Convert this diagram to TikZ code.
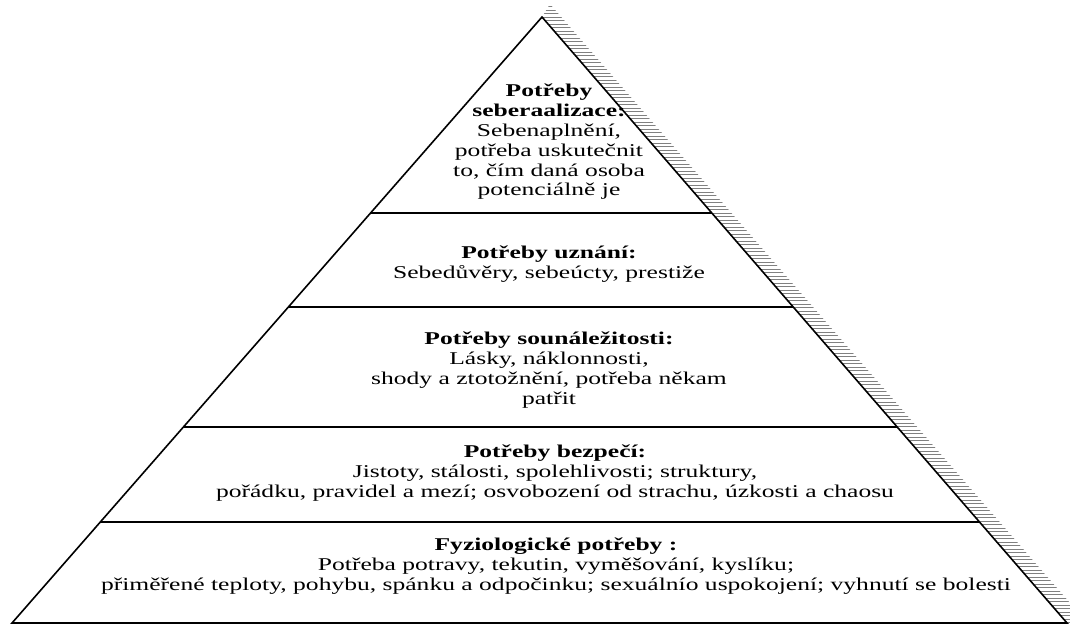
\documentclass[tikz,border=0pt]{standalone}
\usepackage{fontspec}
\setmainfont[FakeStretch=1.42]{Liberation Serif}
\usepackage{tikz}
\usetikzlibrary{calc}
\tikzset{
  needtext/.style={align=center, inner sep=0pt, font=\fontsize{18}{19.8}\selectfont},
  edge/.style={line width=1.6pt, line join=miter},
  divider/.style={line width=1.3pt},
  hatch/.style={black!50, line width=0.8pt}
}

\begin{document}
\begin{tikzpicture}[x=1pt, y=-1pt]
	\useasboundingbox (0,0) rectangle (1070,626);
	\coordinate (apex) at (542,17);
	\coordinate (bl) at (12,623);
	\coordinate (br) at (1067,623);
	% shadow along the right side
	\begin{scope}
		\clip (apex) -- (550,4) -- (1090,626) -- (br) -- cycle;
		\foreach \y in {3,6.5,...,626} \draw[hatch] (530,\y) -- (1090,\y);
	\end{scope}
	\draw[edge] (apex) -- (bl) -- (br) -- cycle;
	\foreach \t in {0.3234,0.4785,0.6766,0.8333}
		\draw[divider] ($(apex)!\t!(bl)$) -- ($(apex)!\t!(br)$);
	% the five levels, top to bottom
	\node[needtext] (self) at (549,142) {\textbf{Potřeby}\\\textbf{seberaalizace:}\\Sebenaplnění,\\potřeba uskutečnit\\to, čím daná osoba\\potenciálně je};
	\node[needtext] (esteem) at (549,264) {\textbf{Potřeby uznání:}\\Sebedůvěry, sebeúcty, prestiže};
	\node[needtext] (belong) at (549,370) {\textbf{Potřeby sounáležitosti:}\\Lásky, náklonnosti,\\shody a ztotožnění, potřeba někam\\patřit};
	\node[needtext] (safety) at (555,473) {\textbf{Potřeby bezpečí:}\\Jistoty, stálosti, spolehlivosti; struktury,\\pořádku, pravidel a mezí; osvobození od strachu, úzkosti a chaosu};
	\node[needtext] (physio) at (556,566) {\textbf{Fyziologické potřeby :}\\Potřeba potravy, tekutin, vyměšování, kyslíku;\\přiměřené teploty, pohybu, spánku a odpočinku; sexuálnío uspokojení; vyhnutí se bolesti};
\end{tikzpicture}
\end{document}
